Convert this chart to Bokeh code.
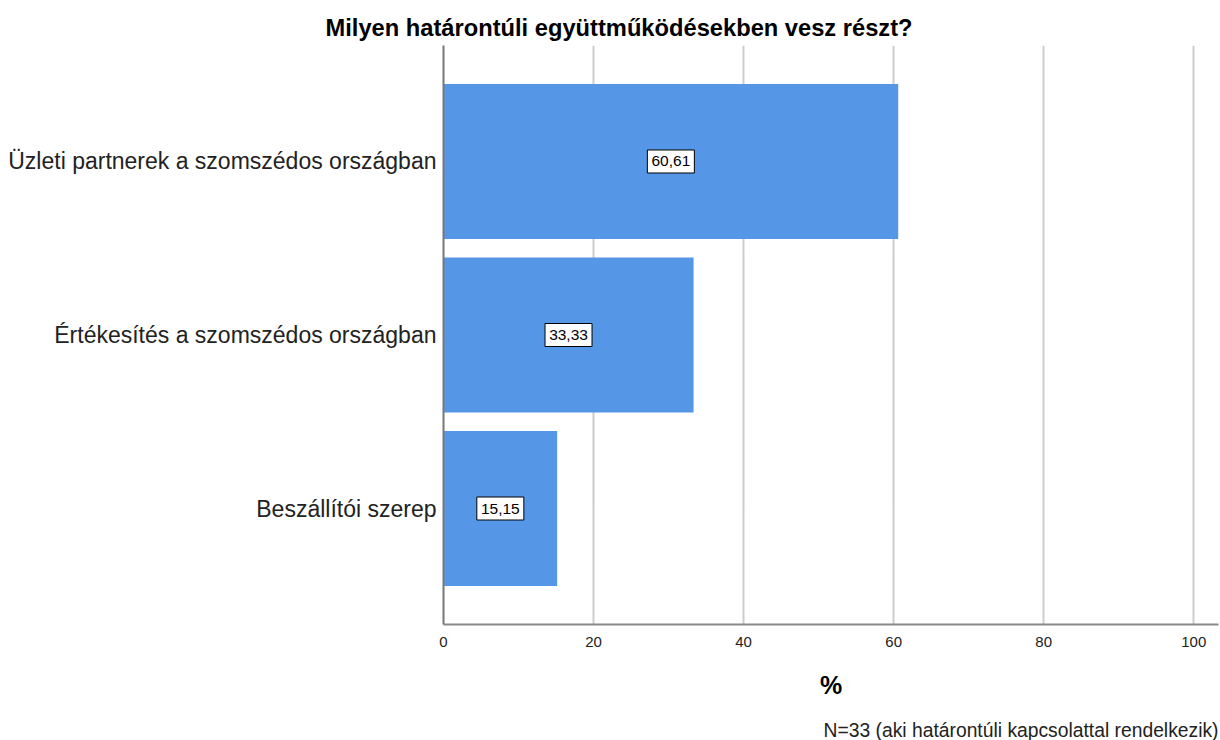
from bokeh.plotting import figure
from bokeh.models import FactorRange, Range1d, ColumnDataSource, Title, FixedTicker
from bokeh.core.properties import value
from bokeh.embed import file_html
from bokeh.resources import INLINE

categories = ["Üzleti partnerek a szomszédos országban",
              "Értékesítés a szomszédos országban",
              "Beszállítói szerep"]
values = [60.61, 33.33, 15.15]
value_labels = ["60,61", "33,33", "15,15"]
x_ticks = [0, 20, 40, 60, 80, 100]

FONT = "Liberation Sans"

src = ColumnDataSource(dict(cat=categories, val=values, half=[v / 2 for v in values], lab=value_labels))

p = figure(width=1220, height=740, output_backend="svg", toolbar_location=None,
           y_range=FactorRange(factors=categories[::-1], range_padding=0.1685, range_padding_units="absolute"),
           x_range=Range1d(0, 103.3),
           min_border_left=443, min_border_right=2, min_border_top=45, min_border_bottom=116)

p.hbar(y="cat", right="val", left=0, height=0.893, source=src, fill_color="#5596e6", line_color=None)

p.rect(x="half", y="cat", width=47, height=23, width_units="screen", height_units="screen",
       source=src, fill_color="white", line_color="#000000", line_width=1)
p.text(x="half", y="cat", text="lab", source=src, text_align="center", text_baseline="middle",
       text_font=value(FONT), text_font_size=value("15.5px"), text_color="#000000")

p.title.text = "Milyen határontúli együttműködésekben vesz részt?"
p.title.text_font = FONT
p.title.text_font_size = "23.7px"
p.title.text_font_style = "bold"
p.title.align = "left"
p.title.offset = -118
p.title.text_color = "#000000"

p.xaxis.ticker = FixedTicker(ticks=x_ticks)
p.xaxis.major_tick_line_color = None
p.xaxis.minor_tick_line_color = None
p.xaxis.major_label_text_font = FONT
p.xaxis.major_label_text_font_size = "15px"
p.xaxis.major_label_text_color = "#222222"
p.xaxis.major_label_standoff = 6
p.xaxis.axis_line_color = "#888888"
p.xaxis.axis_line_width = 2
p.xaxis.axis_label = "%"
p.xaxis.axis_label_text_font = FONT
p.xaxis.axis_label_text_font_size = "25px"
p.xaxis.axis_label_text_font_style = "bold"
p.xaxis.axis_label_text_color = "#000000"
p.xaxis.axis_label_standoff = 21

p.yaxis.major_tick_line_color = None
p.yaxis.minor_tick_line_color = None
p.yaxis.major_label_text_font = FONT
p.yaxis.major_label_text_font_size = "23px"
p.yaxis.major_label_text_color = "#222222"
p.yaxis.major_label_standoff = 1
p.yaxis.axis_line_color = "#777777"
p.yaxis.axis_line_width = 2

p.ygrid.grid_line_color = None
p.xgrid.ticker = FixedTicker(ticks=x_ticks)
p.xgrid.grid_line_color = "#cccccc"
p.xgrid.grid_line_width = 2
p.outline_line_color = None

spacer = Title(text=" ", text_font=FONT, text_font_size="12px", standoff=0)
p.add_layout(spacer, "below")
foot = Title(text="N=33 (aki határontúli kapcsolattal rendelkezik)", align="right",
             text_font=FONT, text_font_size="19.3px", text_font_style="normal", text_color="#222222",
             standoff=0)
p.add_layout(foot, "below")

open("out.html", "w").write(file_html(p, INLINE))
